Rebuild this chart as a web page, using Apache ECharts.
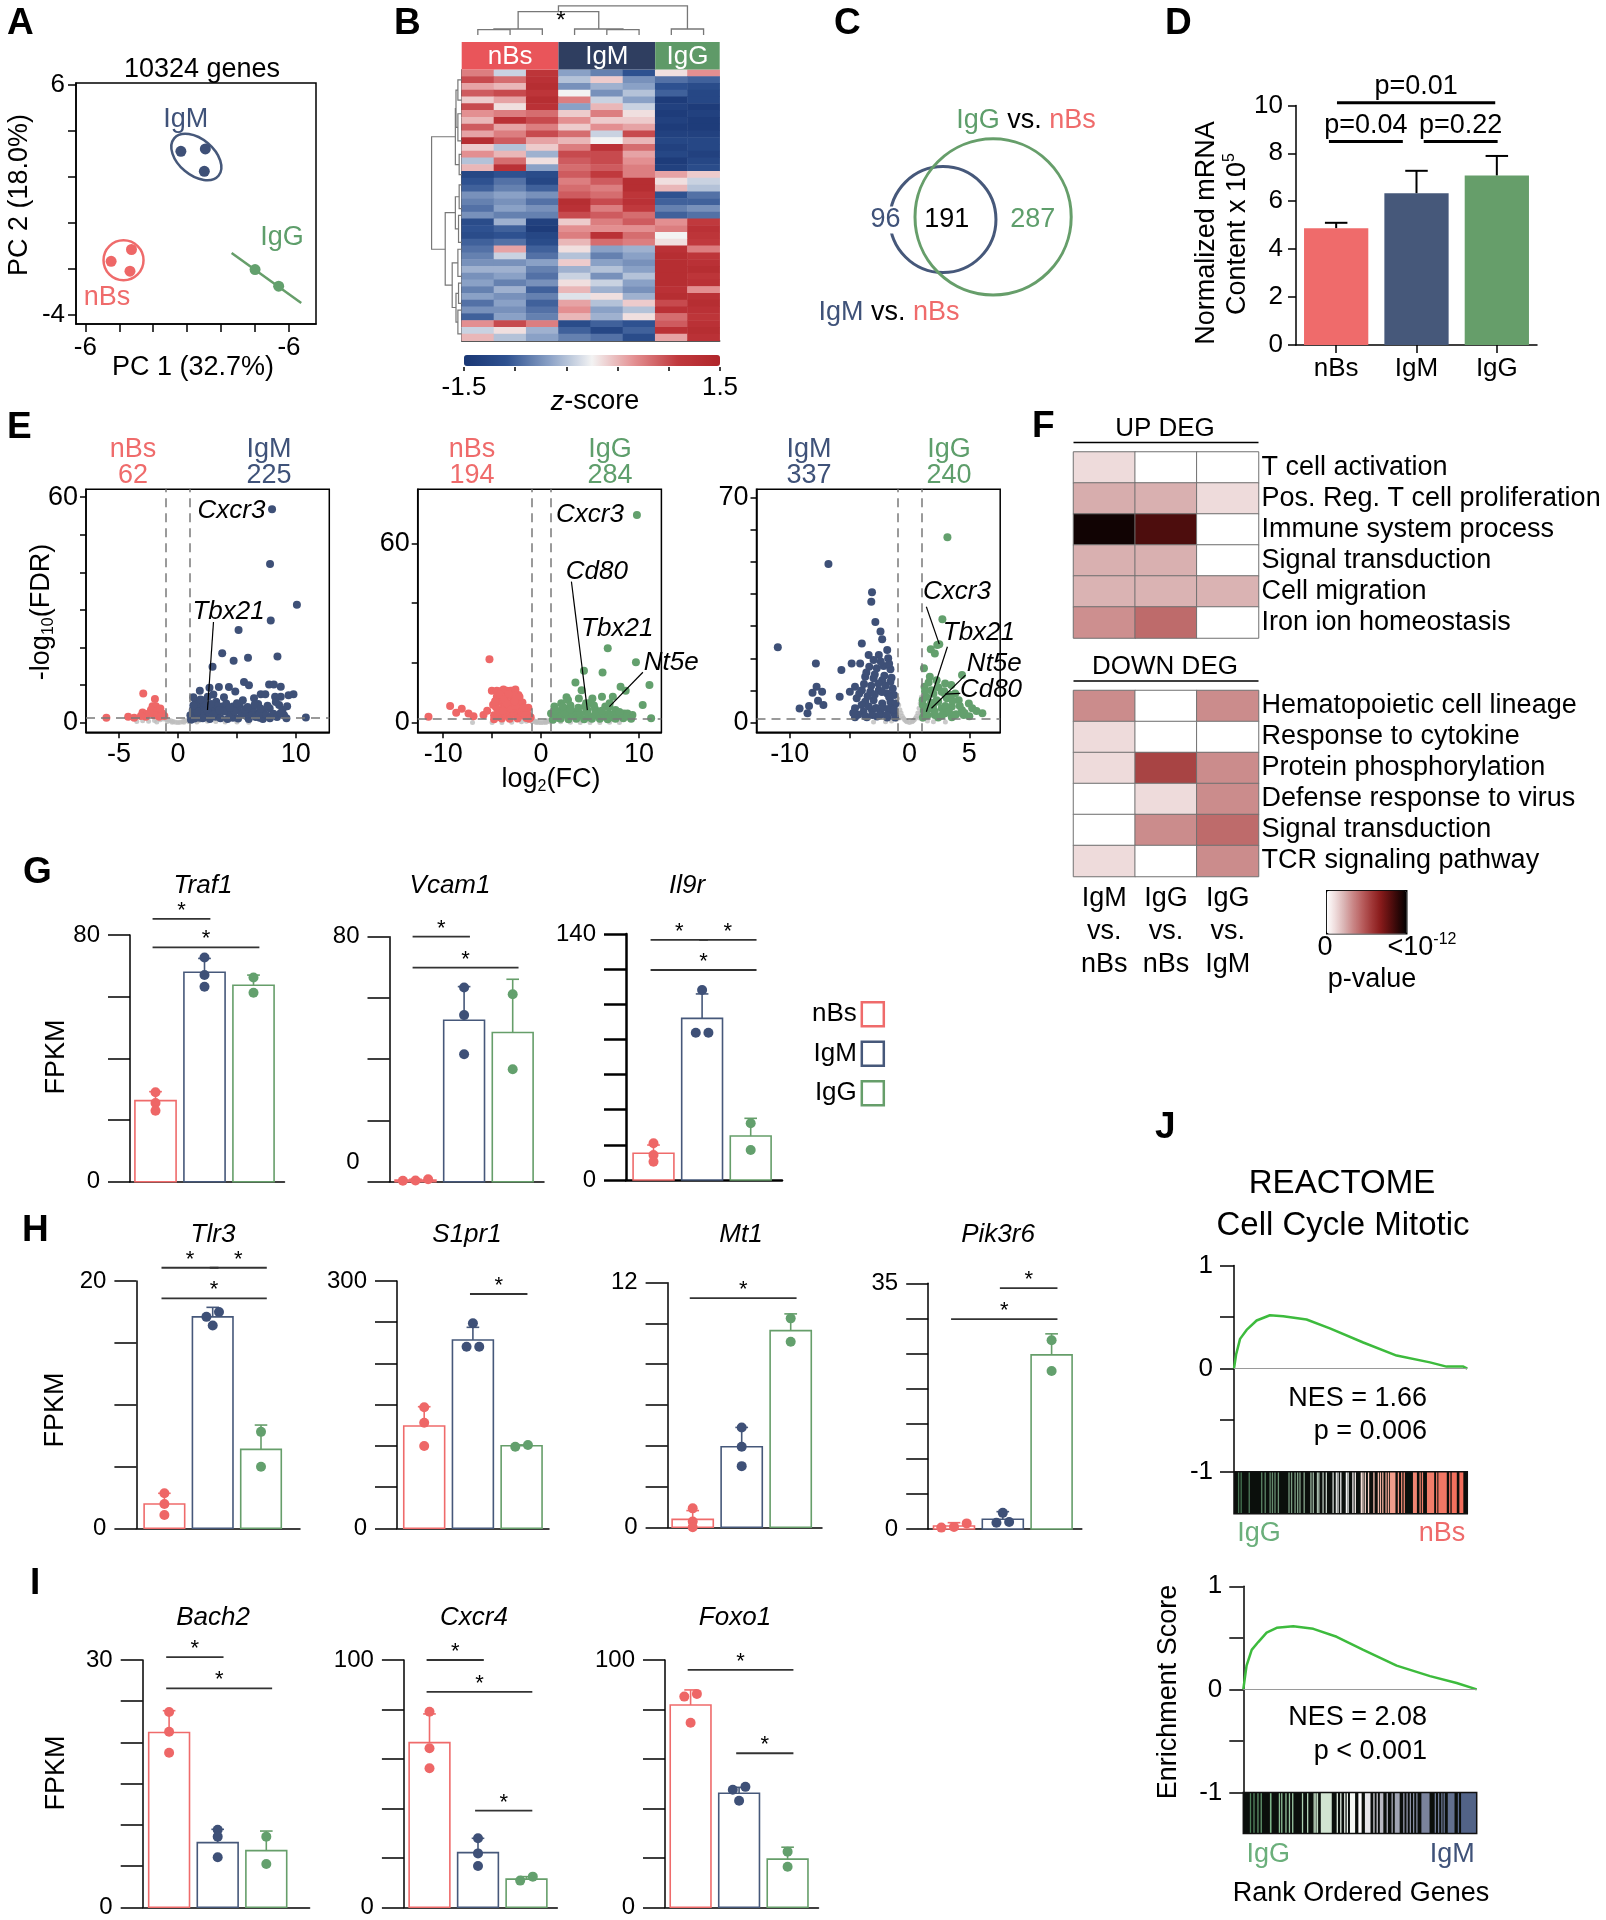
<!DOCTYPE html>
<html><head><meta charset="utf-8"><title>Figure</title>
<script src="https://cdn.jsdelivr.net/npm/echarts@6.0.0/dist/echarts.min.js"></script>
<style>html,body{margin:0;padding:0;background:#fff;}#chart{width:1606px;height:1920px;}</style>
</head><body><div id="chart"></div>
<script>
// ======================= DATA =======================
const groups = ['nBs', 'IgM', 'IgG'];

// A - PCA
const pcaNBs = [[-4.48,-1.66],[-3.28,-1.15],[-3.37,-2.09]];
const pcaIgM = [[-0.37,3.11],[1.07,3.21],[1.01,2.24]];
const pcaIgG = [[4.00,-2.02],[5.39,-2.74]];
const pcaXTicks = [-6,-4,-2,0,2,4,6];
const pcaYTicks = [-4,-2,0,2,4,6];
const pcaXLabelValues = [-6,6];
const pcaXLabelTexts = ['-6','-6'];
const pcaYLabelValues = [-4,6];

// B - heatmap (z-scores, 40 row blocks x 8 samples)
const hmSamples = ['nBs1','nBs2','nBs3','IgM1','IgM2','IgM3','IgG1','IgG2'];
const hmGroupSpans = [[0,2],[3,5],[6,7]];
const hmRows = [
[0.6,-0.2,1.1,-0.5,-0.7,-1.0,0.1,0.5],
[0.9,0.7,1.2,-0.3,0.2,-0.6,-0.8,-0.9],
[0.4,0.3,1.3,-0.6,-0.4,-0.5,-1.0,-1.1],
[0.8,0.9,1.1,0.0,-0.6,-0.3,-0.9,-1.2],
[0.2,0.4,1.3,0.6,-0.2,-0.5,-1.4,-1.2],
[0.9,0.1,1.2,-0.5,0.3,-0.2,-1.3,-1.4],
[0.5,0.6,0.7,0.2,0.6,0.1,-1.4,-1.3],
[0.3,1.2,0.9,0.5,0.2,0.2,-1.3,-1.4],
[0.8,0.4,0.6,0.2,0.5,0.4,-1.4,-1.4],
[0.4,0.6,0.9,0.7,-0.2,0.9,-1.3,-1.3],
[1.3,0.8,0.4,0.3,0.0,0.3,-1.2,-1.2],
[0.2,-0.3,0.2,0.6,1.2,0.7,-1.3,-1.2],
[0.5,0.3,-0.4,0.9,0.9,0.4,-1.2,-1.3],
[-0.3,0.7,0.1,0.8,0.9,0.5,-1.4,-1.2],
[0.3,1.2,-0.5,0.7,0.8,0.6,-1.3,-1.1],
[-1.2,-1.0,-1.1,0.8,1.0,0.6,0.4,0.2],
[-1.0,-0.8,-1.2,0.6,0.8,1.3,0.1,-0.2],
[-0.9,-0.7,-0.9,0.7,0.6,1.3,0.3,-0.3],
[-0.6,-0.5,-0.6,0.8,0.7,1.1,-1.0,-0.8],
[-0.7,-0.6,-0.8,1.3,0.9,1.2,-0.9,-0.9],
[-0.8,-0.5,-0.6,1.2,0.6,1.0,-0.7,-0.6],
[-0.6,-0.7,-0.7,0.9,0.8,0.7,-0.9,-0.8],
[-1.1,-0.4,-1.3,0.2,0.6,0.8,0.5,1.0],
[-1.0,-0.9,-1.4,0.5,0.5,0.5,0.6,1.2],
[-1.1,-1.0,-1.2,0.6,1.2,0.7,0.0,1.1],
[-0.9,-0.8,-1.1,0.3,0.7,0.6,0.1,1.0],
[-0.8,0.4,-0.9,0.1,-0.5,-0.4,1.2,0.6],
[-0.7,-0.2,-0.8,-0.3,-0.7,-0.5,1.3,1.1],
[-0.6,-0.6,-0.5,0.2,-0.5,-0.6,1.3,1.2],
[-0.4,-0.4,-0.7,-0.4,-0.3,-0.5,1.3,1.3],
[-0.6,-0.5,-0.8,-0.2,-0.6,-0.3,1.3,1.1],
[-0.5,-0.7,-0.6,0.1,-0.2,-0.5,1.3,1.2],
[-0.7,-0.4,-0.9,0.3,-0.4,-0.6,1.2,0.5],
[-0.5,-0.6,-0.7,-0.1,0.1,-0.4,1.3,1.2],
[-0.8,-0.5,-0.9,0.4,-0.3,0.2,0.9,1.3],
[-0.6,-0.6,-0.8,0.5,-0.5,-0.3,1.2,1.2],
[-0.9,-0.5,-0.7,0.3,-0.4,0.1,0.7,1.1],
[0.5,0.9,0.6,-1.1,-0.9,-1.0,0.8,1.2],
[-0.2,0.1,-0.4,-0.9,-1.2,-0.9,1.2,1.3],
[0.3,-0.3,-0.5,-0.7,-0.8,-1.1,0.4,1.2]
];
// dendrogram links: [a, heightA, b, heightB, mergeHeight]
const hmColLinks = [[0,0,1,0,0.18],[0.5,0.18,2,0,0.2],[4,0,5,0,0.18],[3,0,4.5,0.18,0.2],[6,0,7,0,0.2],[1.25,0.2,3.75,0.2,0.78],[2.5,0.78,6.5,0.2,0.97]];
const hmRowLinks = [[1,0,4,0,0.12],[6,0,10,0,0.12],[12,0,15,0,0.08],[2.5,0.12,8,0.12,0.18],[5.25,0.18,13.5,0.08,0.2],
  [16.5,0,20,0,0.08],[21,0,25,0,0.1],[18.25,0.08,23,0.1,0.2],[26,0,30,0,0.12],[31,0,34,0,0.1],[35,0,38.5,0,0.12],
  [32.5,0.1,36.75,0.12,0.18],[28,0.12,34.6,0.18,0.3],[20.6,0.2,31.3,0.3,0.52],[9.4,0.2,26,0.52,0.95]];
const hmZTicks = [-1.5,-0.9,-0.3,0.3,0.9,1.5];
const hmZLabels = [-1.5,1.5];

// C - Venn counts [IgM only, shared, IgG only]
const vennCounts = [96,191,287];

// D - normalized mRNA content (x10^5)
const mrnaMeans = [4.87,6.33,7.07];
const mrnaSD = [0.23,0.94,0.82];
const mrnaPText = ['p=0.04','p=0.22','p=0.01'];
const mrnaYTicks = [0,2,4,6,8,10];

// E - volcano plots [log2FC, -log10 FDR]
const volc1Left = [[-6.08,1.33],[-4.23,1.6],[-3.72,1.33],[-2.95,7.8],[-1.96,6.3],[-2.16,4.4],[-1.88,4.4],[-3.01,2.7],[-2.59,2.3],[-2.3,3.4],[-1.73,3.2],[-1.36,2.5],[-1.16,1.8],[-1.59,1.6],[-2.02,2.0],[-2.73,1.6],[-3.15,1.8],[-1.5,3.8],[-2.4,2.6]];
const volc1Right = [[7.98,56.8],[7.81,42.2],[10.09,31.4],[7.87,27.2],[5.14,24.7],[3.75,18.5],[5.94,17.3],[8.44,17.6],[4.72,16.5],[2.93,14.9],[5.6,10.8],[6.02,10.0],[7.73,10.2],[8.13,10.2],[8.72,9.6],[3.47,9.5],[4.32,9.5],[1.85,8.5],[2.67,9.3],[4.86,8.3],[6.45,6.5],[7.02,7.6],[7.41,7.6],[8.24,6.9],[8.72,6.9],[9.38,7.3],[9.8,7.6],[9.26,4.4],[8.58,4.7],[8.87,3.4],[9.0,2.0],[10.85,1.4],[1.05,2.0],[1.25,3.4],[1.68,4.7],[2.1,6.0],[2.53,6.9],[3.24,5.6],[3.66,4.3],[4.09,5.1],[4.66,4.3],[5.09,3.4],[5.65,2.5],[6.08,2.9],[6.65,2.5],[7.22,2.9],[5.23,4.7],[4.38,2.5],[3.38,2.5],[2.39,2.5],[1.82,2.9],[2.95,3.8],[6.36,3.8],[7.78,3.8],[1.25,1.6],[1.82,1.3],[4.66,1.3],[6.93,1.3],[2.5,3.4],[1.5,5.5],[2.2,4.2],[3.0,7.5],[3.9,6.8],[5.5,6.0],[6.8,5.0],[4.2,3.3],[1.3,6.8],[2.0,1.8],[3.2,1.6],[5.8,1.8],
 [1.1,0.8],[1.4,1.1],[1.7,2.2],[2.1,1.2],[2.4,3.8],[2.7,1.0],[3.0,2.2],[3.3,4.5],[3.6,1.2],[3.9,3.0],[4.2,1.0],[4.5,2.0],[4.8,3.0],[5.1,1.1],[5.4,2.2],[5.7,3.5],[6.0,1.0],[6.3,2.0],[6.6,1.5],[6.9,2.2],[7.2,1.0],[7.5,2.0],[7.8,1.2],[8.1,2.4],[8.4,1.5],[8.7,2.5],[9.2,1.2],[1.6,3.0],[2.2,5.2],[2.8,5.0],[3.5,3.3],[4.4,4.0],[5.0,5.2],[5.9,4.2],[6.5,4.8],[7.0,3.8],[7.6,4.5],[8.3,5.5],[1.3,4.6],[1.9,6.2]];
const volc1NS = [[-3.5,0.3],[-3,0.5],[-2.5,0.4],[-2,0.6],[-1.5,0.8],[-1.2,1.0],[-1,0.9],[-0.8,0.7],[-0.6,0.5],[-0.4,0.3],[-0.2,0.15],[0,0.05],[0.2,0.15],[0.4,0.3],[0.6,0.5],[0.8,0.7],[1.0,0.9],[1.3,1.0],[1.8,0.6],[2.5,0.4],[3.2,0.3],[4,0.2],[5,0.2],[6,0.1],[-0.9,0.3],[0.9,0.3],[-0.5,0.1],[0.5,0.1],[-1.8,0.2],[1.6,0.2]];
const volc2Left = [[-11.5,2.0],[-9.29,5.6],[-8.67,3.3],[-8.1,4.7],[-7.41,3.1],[-6.9,2.2],[-5.88,2.6],[-5.27,21.2],[-5.03,10.7],[-4.52,10.7],[-4.01,10.7],[-3.5,10.7],[-2.99,10.7],[-2.65,10.7],[-4.52,8.7],[-4.18,7.0],[-3.84,5.4],[-3.5,3.7],[-3.16,6.5],[-2.82,8.1],[-2.31,9.3],[-3.84,11.1],[-3.14,10.7],[-2.62,11.1],[-3.49,8.7],[-2.8,9.3],[-2.28,7.6],[-2.1,5.4],[-1.76,4.3],[-1.41,3.1],[-3.67,5.4],[-2.97,6.5],[-2.45,3.7],[-1.06,1.8],[-5.5,4.0],[-4.8,2.5],[-4.2,1.8],[-3.2,2.0],[-2.0,2.4],[-1.5,1.6],[-4.9,6.0],[-4.4,4.2],[-1.9,6.8],[-1.3,5.0],
 [-4.8,1.2],[-4.4,2.8],[-4.0,1.4],[-3.6,2.4],[-3.2,1.3],[-2.8,3.0],[-2.4,1.4],[-2.0,3.5],[-1.6,2.6],[-1.2,1.3],[-4.6,5.2],[-4.2,9.5],[-3.8,7.8],[-3.4,6.2],[-3.0,4.6],[-2.6,5.6],[-2.2,8.6],[-1.8,5.0],[-3.9,4.0],[-2.7,7.2],[-3.3,9.6],[-4.7,7.2]];
const volc2Right = [[9.79,69.5],[6.81,24.9],[9.69,20.2],[6.28,16.8],[4.38,17.4],[11.07,12.6],[8.12,12.0],[3.51,13.5],[4.14,10.9],[3.86,8.1],[5.24,8.1],[6.22,8.7],[7.33,8.7],[8.64,10.7],[10.38,5.9],[2.06,6.5],[2.75,7.6],[1.36,5.4],[1.02,3.1],[1.71,3.7],[2.75,4.8],[4.48,5.4],[5.52,4.5],[6.56,5.4],[7.6,4.3],[8.47,3.1],[9.33,2.6],[11.24,1.5],[2.58,2.6],[3.79,2.2],[4.83,1.8],[6.22,2.0],[7.43,1.7],[2.23,4.2],[3.62,3.7],[4.66,3.7],[5.87,3.1],[6.91,3.1],[7.95,2.6],[8.82,3.1],[4.73,4.2],[6.98,5.4],[1.4,2.0],[1.8,1.6],[3.0,5.8],[5.0,6.6],[3.3,3.0],[5.5,2.5],
 [1.2,1.0],[1.6,2.5],[2.0,1.3],[2.4,3.2],[2.8,1.2],[3.2,2.6],[3.6,1.3],[4.0,3.0],[4.4,1.2],[4.8,2.7],[5.2,1.3],[5.6,3.4],[6.0,1.3],[6.4,2.8],[6.8,1.2],[7.2,2.5],[7.6,1.3],[8.0,3.6],[8.4,1.5],[8.8,2.2],[9.2,1.3],[2.2,5.4],[3.0,4.4],[3.8,5.0],[4.6,6.5],[5.4,5.8],[6.2,4.0],[7.0,6.5],[1.5,4.2],[2.6,8.5]];
const volc2NS = [[-1.5,0.5],[-1.2,0.9],[-1,1.1],[-0.8,0.8],[-0.6,0.5],[-0.4,0.3],[-0.2,0.1],[0,0.05],[0.2,0.1],[0.4,0.3],[0.6,0.5],[0.8,0.8],[1,1.0],[1.3,0.6],[2,0.3],[3,0.2],[4,0.1],[5,0.1],[-2,0.3],[-3,0.2],[-4,0.1],[-5,0.1],[-0.9,0.3],[0.9,0.3],[-0.5,0.1],[0.5,0.1],[6,0.1],[8,0.1],[-7,0.1],[7,0.2]];
const volc3Left = [[-11.0,23.4],[-6.77,49.3],[-7.82,18.4],[-7.76,11.2],[-8.1,9.3],[-7.3,9.6],[-7.64,6.8],[-7.19,5.5],[-8.39,5.2],[-9.18,4.4],[-8.52,2.9],[-5.69,16.4],[-5.83,8.1],[-4.98,9.6],[-4.83,18.4],[-3.98,24.6],[-3.13,40.5],[-3.19,37.6],[-2.85,31.3],[-2.42,28.3],[-2.28,25.9],[-1.86,22.6],[-3.41,21.0],[-2.56,21.0],[-1.78,20.0],[-4.12,18.4],[-3.36,17.4],[-2.73,16.9],[-2.16,17.6],[-1.59,16.6],[-3.7,14.3],[-3.0,13.8],[-2.28,13.2],[-1.59,12.7],[-4.55,11.2],[-3.98,10.1],[-3.27,9.6],[-2.56,10.1],[-1.86,9.1],[-1.29,8.6],[-4.41,7.6],[-3.7,6.5],[-3.0,7.0],[-2.28,6.0],[-1.59,6.5],[-1.16,6.0],[-4.55,4.5],[-3.84,3.4],[-3.13,3.9],[-2.42,3.4],[-1.72,3.9],[-1.29,2.9],[-4.55,1.7],[-3.56,1.7],[-2.71,1.9],[-1.86,1.6],
 [-4.3,2.5],[-4.0,5.5],[-3.7,2.0],[-3.4,5.0],[-3.1,2.4],[-2.8,4.6],[-2.5,2.2],[-2.2,4.8],[-1.9,2.4],[-1.6,4.6],[-1.3,4.2],[-1.2,1.6],[-4.2,9.0],[-3.8,12.0],[-3.5,8.2],[-3.2,11.5],[-2.9,8.8],[-2.6,12.2],[-2.3,9.5],[-2.0,11.5],[-1.7,8.0],[-1.4,10.6],[-3.6,15.6],[-2.9,15.0],[-2.1,14.6],[-1.5,14.0],[-3.0,19.5],[-2.4,19.0],[-1.7,18.3],[-4.7,3.0]];
const volc3Right = [[3.17,57.6],[2.75,32.1],[2.32,24.1],[1.78,22.8],[2.12,21.5],[1.21,16.9],[4.39,14.8],[1.7,14.3],[2.27,13.2],[2.98,12.2],[3.49,11.7],[1.26,11.2],[1.84,10.1],[2.69,9.6],[3.82,9.1],[1.4,8.1],[2.27,7.0],[3.12,7.6],[4.11,7.0],[4.96,6.0],[1.12,5.5],[1.97,5.0],[2.69,4.5],[3.54,5.0],[4.39,3.9],[5.24,4.5],[1.26,2.9],[2.12,2.4],[2.98,2.9],[3.82,2.4],[4.53,2.4],[6.09,2.9],[1.12,1.6],[2.4,1.6],[3.54,1.7],[2.49,24.4],[1.41,3.4],[1.84,4.5],[2.97,8.9],
 [1.2,3.8],[1.5,2.3],[1.8,6.2],[2.1,3.5],[2.4,6.5],[2.7,2.2],[3.0,5.2],[3.3,3.4],[3.6,6.8],[3.9,2.6],[4.2,5.2],[4.6,3.0],[5.0,2.0],[1.3,9.8],[1.6,12.5],[2.0,9.0],[2.4,11.0],[2.9,9.8],[3.4,8.6],[1.1,7.0],[1.4,4.8],[5.6,3.6]];
const volc3NS = [[-1.0,7.5],[-0.9,5.5],[-0.8,4],[-0.7,3],[-0.6,2],[-0.5,1.4],[-0.4,0.9],[-0.3,0.5],[-0.2,0.3],[0,0.1],[0.2,0.3],[0.3,0.5],[0.4,0.9],[0.5,1.4],[0.6,2],[0.7,3],[0.8,4.5],[0.9,6],[1.0,8],[-1.1,1.0],[1.1,1.0],[-1.5,0.5],[1.5,0.5],[-2,0.3],[2,0.3],[-3,0.2],[3,0.2],[-0.95,2.5],[0.95,3],[-0.85,1.5],[0.85,1.5]];
const volc1Genes = [['Cxcr3',7.98,56.8],['Tbx21',2.5,3.4]];
const volc2Genes = [['Cxcr3',9.79,69.5],['Cd80',4.73,4.2],['Tbx21',6.81,24.9],['Nt5e',6.98,5.4]];
const volc3Genes = [['Cxcr3',2.49,24.4],['Tbx21',1.41,3.4],['Nt5e',1.84,4.5],['Cd80',2.97,8.9]];
const volcCounts = [[62,225],[194,284],[337,240]];
const volc1XTicks = [-5,0,5,10], volc1XLabels = [-5,0,10], volc1YTicks = [0,10,20,30,40,50,60], volc1YLabels = [0,60];
const volc2XTicks = [-10,-5,0,5,10], volc2XLabels = [-10,0,10], volc2YTicks = [0,20,40,60], volc2YLabels = [0,60];
const volc3XTicks = [-10,-5,0,5], volc3XLabels = [-10,0,5], volc3YTicks = [0,10,20,30,40,50,60,70], volc3YLabels = [0,70];

// F - GO enrichment (-log10 p, capped at 12)
const fComparisons = ['IgM vs. nBs','IgG vs. nBs','IgG vs. IgM'];
const fTermsUp = ['T cell activation','Pos. Reg. T cell proliferation','Immune system process','Signal transduction','Cell migration','Iron ion homeostasis'];
const fTermsDown = ['Hematopoietic cell lineage','Response to cytokine','Protein phosphorylation','Defense response to virus','Signal transduction','TCR signaling pathway'];
const fUp = [[1.3,0,0],[2.8,2.7,1.3],[11.5,9.8,0],[2.7,2.7,0],[2.6,2.6,2.6],[3.7,4.9,0]];
const fDown = [[3.8,0,3.8],[1.3,0,0],[1.3,6.3,3.8],[0,1.3,3.8],[0,3.8,4.9],[1.3,0,3.8]];

// G/H/I - FPKM bar charts
const barGenes = ['Traf1','Vcam1','Il9r','Tlr3','S1pr1','Mt1','Pik3r6','Bach2','Cxcr4','Foxo1'];
const barYMax = [80,80,140,20,300,12,35,30,100,100];
const barStep = [20,20,20,5,50,2,5,5,20,20];
const barMeans = [[26.3,67.9,63.7],[0.5,52.7,48.7],[15.2,92.0,25.0],[1.96,17.1,6.38],[124.1,228.4,100.2],[0.39,3.95,9.65],[0.43,1.38,24.8],[21.2,7.84,6.87],[66.6,22.1,11.4],[81.8,46.1,19.5]];
const barSD = [[2.9,4.5,3.3],[0.3,11.0,17.4],[4.7,13.9,10.1],[0.87,0.77,1.97],[23.4,15.4,1.0],[0.43,0.95,0.82],[0.47,1.09,3.0],[2.65,1.62,2.38],[11.6,5.8,1.0],[6.1,2.4,4.8]];
const barPoints = [
 [[29.0,25.5,23.0],[72.7,67.0,63.2],[66.2,61.3]],
 [[0.8,0.3,0.4],[63.4,54.4,41.6],[61.2,36.7]],
 [[20.9,14.2,10.4],[108.1,83.8,83.8],[32.3,17.1]],
 [[2.83,1.96,1.07],[17.5,17.1,16.4],[7.8,4.98]],
 [[146.8,128.1,99.8],[248.7,220.3,220.3],[99.0,101.0]],
 [[0.93,0.28,0.0],[4.9,3.95,3.0],[10.25,9.1]],
 [[0.8,0.2,0.3],[2.3,1.0,0.9],[26.9,22.5]],
 [[23.7,21.3,18.75],[9.4,8.57,6.07],[8.57,5.25]],
 [[79.1,64.3,56.2],[27.9,21.8,16.7],[10.8,12.4]],
 [[85.2,86.3,74.6],[48.7,47.5,43.1],[22.5,16.4]]
];
// significant comparisons: [group a, group b, bracket height]
const barSig = [
 [[0,1,85.2],[0,2,76.0]],
 [[0,1,80.0],[0,2,69.9]],
 [[0,1,136.6],[1,2,136.6],[0,2,119.5]],
 [[0,1,21.07],[1,2,21.07],[0,2,18.6]],
 [[1,2,284.2]],
 [[0,2,11.24]],
 [[1,2,34.3],[0,2,29.9]],
 [[0,1,30.36],[0,2,26.56]],
 [[0,1,100],[0,2,87.1],[1,2,39.1]],
 [[0,2,96.0],[1,2,62.3]]
];

// J - GSEA running enrichment score [rank fraction, ES]
const gsea1Curve = [[0,0],[0.009,0.137],[0.026,0.289],[0.054,0.376],[0.097,0.467],[0.154,0.518],[0.211,0.508],[0.311,0.477],[0.411,0.391],[0.554,0.254],[0.697,0.127],[0.84,0.061],[0.911,0.02],[0.983,0.02],[1,0]];
const gsea2Curve = [[0,0],[0.014,0.23],[0.036,0.383],[0.064,0.459],[0.1,0.551],[0.143,0.597],[0.214,0.612],[0.3,0.587],[0.4,0.51],[0.514,0.383],[0.657,0.23],[0.8,0.128],[0.914,0.061],[1,0]];
const gsea1Hits = [[.017,.021],[.028,.032],[.0625,.066],[.116,.12],[.131,.135],[.152,.156],[.162,.166],[.173,.177],[.1875,.191],[.233,.237],[.244,.248],[.259,.263],[.27,.274],[.28,.284],[.298,.302],[.327,.331],[.337,.341],[.355,.359],[.361,.365],[.379,.383],[.393,.397],[.422,.426],[.436,.44],[.443,.447],[.455,.46],[.479,.484],[.486,.49],[.507,.511],[.517,.521],[.543,.547],[.55,.554],[.56,.564],[.574,.578],[.597,.601],[.616,.62],[.625,.629],[.635,.639],[.649,.653],[.659,.663],[.668,.692],[.702,.706],[.716,.72],[.727,.731],[.767,.784],[.795,.799],[.805,.809],[.827,.858],[.866,.87],[.876,.912],[.922,.926],[.933,.955],[.966,.983]];
const gsea2Hits = [[.028,.032],[.043,.047],[.06,.064],[.074,.078],[.114,.121],[.152,.156],[.162,.166],[.18,.184],[.195,.199],[.209,.213],[.251,.255],[.273,.277],[.301,.305],[.308,.312],[.315,.319],[.332,.379],[.4,.404],[.415,.419],[.432,.436],[.443,.447],[.457,.479],[.493,.507],[.521,.545],[.557,.561],[.571,.575],[.585,.6],[.614,.618],[.635,.639],[.649,.67],[.685,.689],[.699,.703],[.713,.717],[.727,.731],[.741,.745],[.763,.798],[.82,.824],[.834,.838],[.848,.852],[.858,.862],[.876,.905],[.919,.923],[.933,1]];
const gseaStats = [['NES = 1.66','p = 0.006'],['NES = 2.08','p < 0.001']];
const gseaYTicks = [-1,-0.5,0,0.5,1], gseaYLabels = [-1,0,1];

// ======================= STYLE / LAYOUT =======================
const FONT = '"Liberation Sans", Arial, Helvetica, sans-serif';
const COL = {nBs:'#EF6B6B', IgM:'#46587A', IgG:'#669E6A'};
const PT = {nBs:'#EE6767', IgM:'#3E5077', IgG:'#63A06D'};
const TXT = {nBs:'#EF6B6B', IgM:'#3F5279', IgG:'#5E9E6B'};
const HDR = {nBs:'#E9555A', IgM:'#2F3E60', IgG:'#5F9A68'};
const B_COLORS = ['#1A3774','#2E5190','#8AA1C6','#F3F3F3','#E38F91','#C0393D','#B0262B'];
const F_COLORS = ['#FFFFFF','#EEDADA','#D9B1B1','#C98585','#B85E5E','#A23A3A','#8A1C1C','#5E1010','#2E0707','#000000'];

const grid=[], xAxis=[], yAxis=[], series=[], graphic=[];
function fnt(size, style, weight){ return (style||'normal')+' '+(weight||'normal')+' '+size+'px '+FONT; }
function textEl(x, y, text, o){ o=o||{}; const al=o.align||'center', va=o.va||'middle';
  const st={text:text, fill:o.color||'#000', font:fnt(o.size||26,o.style,o.weight), align:al, textAlign:al, verticalAlign:va, textVerticalAlign:va};
  if(o.rich) st.rich=o.rich;
  if(o.bg){ st.backgroundColor=o.bg; st.textBackgroundColor=o.bg; st.padding=[0,2]; }
  return {type:'text', x:x, y:y, rotation:o.rot||0, z:100, silent:true, style:st}; }
function gtext(x,y,text,o){ graphic.push(textEl(x,y,text,o)); }
function addGrid(r, xa, ya, border){ const gi=grid.length;
  grid.push({left:r[0], top:r[1], width:r[2], height:r[3], containLabel:false, outerBoundsMode:'none', show:!!border, borderColor:'#000', borderWidth:1.5, backgroundColor:'rgba(0,0,0,0)'});
  xAxis.push(Object.assign({gridIndex:gi}, xa)); yAxis.push(Object.assign({gridIndex:gi}, ya)); return gi; }
function onG(gi, s){ s.xAxisIndex=gi; s.yAxisIndex=gi; if(s.animation===undefined) s.animation=false; series.push(s); return series.length-1; }
function valAxis(min, max, o){ o=o||{}; const lw=o.lw||1.5;
  return {type:'value', min:min, max:max, show:o.show!==false, inverse:!!o.inverse, position:o.position,
    axisLine:{show:!!o.line, onZero:false, lineStyle:{color:'#000', width:lw}},
    axisTick:o.ticks?{show:true, inside:false, length:o.tickLen||7, customValues:o.ticks, lineStyle:{color:'#000', width:lw}}:{show:false},
    axisLabel:o.labels?{show:true, customValues:o.labels, formatter:o.fmt, margin:o.margin||8, fontSize:o.fs||26, fontFamily:FONT, color:'#000', rich:o.rich}:{show:false},
    splitLine:{show:false}, splitArea:{show:false}}; }
function hexToRgb(h){ h=h.replace('#',''); return [0,2,4].map(i=>parseInt(h.substr(i,2),16)); }
function gradAt(stops, t){ for(let i=1;i<stops.length;i++){ if(t<=stops[i][0]){ const t0=stops[i-1][0], t1=stops[i][0]; const f=(t-t0)/((t1-t0)||1); const a=hexToRgb(stops[i-1][1]), b=hexToRgb(stops[i][1]); return 'rgb('+a.map((v,k)=>Math.round(v+(b[k]-v)*f)).join(',')+')'; } } return stops[stops.length-1][1]; }

// ---------- panel letters ----------
[['A',7,23.5],['B',394,23.5],['C',834,23.5],['D',1165,23.5],['E',7,428],['F',1032,427],['G',23,873],['H',22,1231],['I',30,1584],['J',1155,1128]]
 .forEach(l=>gtext(l[1],l[2],l[0],{size:37,weight:'bold',align:'left'}));

// ======================= A: PCA =======================
const gA = addGrid([76,83,240,241],
  valAxis(-6.55,7.59,{line:true,ticks:pcaXTicks,labels:pcaXLabelValues,fmt:v=>pcaXLabelTexts[pcaXLabelValues.indexOf(v)],tickLen:8,margin:11,fs:26}),
  valAxis(-4.38,6.07,{line:true,ticks:pcaYTicks,labels:pcaYLabelValues,tickLen:8,margin:11,fs:26}), true);
[['nBs',pcaNBs],['IgM',pcaIgM],['IgG',pcaIgG]].forEach(d=>onG(gA,{type:'scatter',name:d[0],data:d[1],symbolSize:11,itemStyle:{color:PT[d[0]],opacity:1},z:5,silent:true}));
const PCA_ANN = {igmEll:[0.54,2.86], nbsCirc:[-3.75,-1.62], iggLine:[[2.62,-1.30],[6.72,-3.47]], labels:[['IgM',-0.08,4.48],['IgG',5.59,-0.65],['nBs',-4.73,-3.25]]};
onG(gA,{type:'custom',silent:true,clip:false,z:4,data:[[0,0]],renderItem:(p,api)=>{
  const e=api.coord(PCA_ANN.igmEll), c=api.coord(PCA_ANN.nbsCirc), l1=api.coord(PCA_ANN.iggLine[0]), l2=api.coord(PCA_ANN.iggLine[1]);
  const ch=[
    {type:'ellipse', x:e[0], y:e[1], rotation:-0.70, shape:{cx:0,cy:0,rx:29,ry:18}, style:{fill:'none',stroke:COL.IgM,lineWidth:2.5}},
    {type:'circle', shape:{cx:c[0],cy:c[1],r:20}, style:{fill:'none',stroke:COL.nBs,lineWidth:2.5}},
    {type:'line', shape:{x1:l1[0],y1:l1[1],x2:l2[0],y2:l2[1]}, style:{stroke:COL.IgG,lineWidth:2.5}}];
  PCA_ANN.labels.forEach(l=>{ const q=api.coord([l[1],l[2]]); ch.push(textEl(q[0],q[1],l[0],{size:27,color:TXT[l[0]]})); });
  return {type:'group',children:ch}; }});
gtext(202,70,'10324 genes',{size:27});
gtext(193,368,'PC 1 (32.7%)',{size:27});
gtext(20,195,'PC 2 (18.0%)',{size:27,rot:Math.PI/2});

// ======================= B: heatmap =======================
const rowIds = hmRows.map((r,i)=>'r'+(i+1));
const gB = addGrid([461.7,69.7,258,271],
  {type:'category',data:hmSamples,axisLine:{show:true,lineStyle:{color:'#222',width:1.5}},axisTick:{show:false},axisLabel:{show:false},splitLine:{show:false}},
  {type:'category',data:rowIds,inverse:true,axisLine:{show:true,lineStyle:{color:'#555',width:1}},axisTick:{show:false},axisLabel:{show:false},splitLine:{show:false}});
const hmData=[]; hmRows.forEach((r,i)=>r.forEach((v,j)=>hmData.push([j,i,v])));
const sB = onG(gB,{type:'heatmap',data:hmData,silent:true,itemStyle:{borderWidth:0},progressive:0});
// header
const gBh = addGrid([461.7,42,258,27.5], valAxis(-0.5,7.5,{show:false}), valAxis(0,1,{show:false}));
onG(gBh,{type:'custom',silent:true,data:hmGroupSpans,renderItem:(p,api)=>{
  const g=groups[p.dataIndex]; const a=api.coord([api.value(0)-0.5,1]), b=api.coord([api.value(1)+0.5,0]);
  return {type:'group',children:[{type:'rect',shape:{x:a[0],y:a[1],width:b[0]-a[0],height:b[1]-a[1]},style:{fill:HDR[g]}},
    textEl((a[0]+b[0])/2,(a[1]+b[1])/2+1,g,{size:26,color:'#fff'})]}; }});
// column dendrogram
const gBc = addGrid([461.7,5,258,30], valAxis(-0.5,7.5,{show:false}), valAxis(0,1,{show:false}));
onG(gBc,{type:'custom',silent:true,clip:false,data:hmColLinks,renderItem:(p,api)=>{
  const v=hmColLinks[p.dataIndex]; const pts=[[v[0],v[1]],[v[0],v[4]],[v[2],v[4]],[v[2],v[3]]].map(q=>api.coord(q));
  return {type:'polyline',shape:{points:pts},style:{fill:'none',stroke:'#777',lineWidth:1.3}}; }});
gtext(561,21,'*',{size:24});
// row dendrogram
const gBr = addGrid([430,69.7,31.7,271], valAxis(0,1,{show:false,inverse:true}), valAxis(-0.5,39.5,{show:false,inverse:true}));
onG(gBr,{type:'custom',silent:true,clip:false,data:hmRowLinks,renderItem:(p,api)=>{
  const v=hmRowLinks[p.dataIndex]; const pts=[[v[1],v[0]],[v[4],v[0]],[v[4],v[2]],[v[3],v[2]]].map(q=>api.coord(q));
  return {type:'polyline',shape:{points:pts},style:{fill:'none',stroke:'#777',lineWidth:1.2}}; }});
// colorbar ticks
addGrid([464,366,256,1], valAxis(-1.5,1.5,{line:false,ticks:hmZTicks,labels:hmZLabels,tickLen:4,margin:8,fs:26}), valAxis(0,1,{show:false}));
gtext(595,402,'{i|z}-score',{size:27,rich:{i:{fontStyle:'italic',fontSize:27,fontFamily:FONT,fill:'#000'}}});

// ======================= C: Venn =======================
const VENN = {circles:[[37.7,50.2,24.1,'IgM'],[60.5,51.4,35.5,'IgG']], labels:[[11.6,50,'IgM'],[39.4,50,null],[78.5,50,'IgG']]};
const gC = addGrid([860,110,220,220], valAxis(0,100,{show:false}), valAxis(0,100,{show:false}));
onG(gC,{type:'custom',silent:true,clip:false,data:VENN.circles.map(c=>[c[0],c[1],c[2]]),renderItem:(p,api)=>{
  const c=api.coord([api.value(0),api.value(1)]); const r=api.size([api.value(2),0])[0];
  return {type:'circle',shape:{cx:c[0],cy:c[1],r:r},style:{fill:'none',stroke:COL[VENN.circles[p.dataIndex][3]],lineWidth:3}}; }});
onG(gC,{type:'custom',silent:true,clip:false,z:5,data:VENN.labels.map(l=>[l[0],l[1]]),renderItem:(p,api)=>{
  const c=api.coord([api.value(0),api.value(1)]); const g=VENN.labels[p.dataIndex][2];
  return textEl(c[0],c[1],String(vennCounts[p.dataIndex]),{size:27,color:g?TXT[g]:'#000',bg:p.dataIndex===0?'#fff':null}); }});
const vsRich = {g:{fill:TXT.IgG,fontSize:27,fontFamily:FONT}, m:{fill:TXT.IgM,fontSize:27,fontFamily:FONT}, r:{fill:TXT.nBs,fontSize:27,fontFamily:FONT}, k:{fill:'#000',fontSize:27,fontFamily:FONT}};
gtext(1026,121,'{g|IgG}{k| vs. }{r|nBs}',{size:27,rich:vsRich});
gtext(889,313,'{m|IgM}{k| vs. }{r|nBs}',{size:27,rich:vsRich});

// ======================= D: mRNA bars =======================
const gD = addGrid([1296,105.4,241,239.6],
  valAxis(-0.5,2.5,{line:true,ticks:[0,1,2],labels:[0,1,2],fmt:v=>groups[v],tickLen:8,margin:11,fs:26}),
  valAxis(0,10,{line:true,ticks:mrnaYTicks,labels:mrnaYTicks,tickLen:8,margin:13,fs:26}));
onG(gD,{type:'custom',silent:true,z:2,data:mrnaMeans.map((m,i)=>[i,m,mrnaSD[i]]),renderItem:(p,api)=>{
  const x=api.value(0), m=api.value(1), sd=api.value(2);
  const a=api.coord([x-0.4,0]), b=api.coord([x+0.4,m]), t=api.coord([x,m]), e=api.coord([x,m+sd]), cl=api.coord([x-0.14,m+sd]), cr=api.coord([x+0.14,m+sd]);
  return {type:'group',children:[
    {type:'line',shape:{x1:t[0],y1:t[1],x2:e[0],y2:e[1]},style:{stroke:'#000',lineWidth:2}},
    {type:'line',shape:{x1:cl[0],y1:cl[1],x2:cr[0],y2:cr[1]},style:{stroke:'#000',lineWidth:2}},
    {type:'rect',shape:{x:a[0],y:b[1],width:b[0]-a[0],height:a[1]-b[1]},style:{fill:COL[groups[p.dataIndex]]}}]}; }});
const D_BRACKETS = [[-0.09,0.83,8.49],[1.09,2.01,8.49],[0.01,1.98,10.11]];
onG(gD,{type:'custom',silent:true,clip:false,z:3,data:D_BRACKETS,renderItem:(p,api)=>{
  const a=api.coord([api.value(0),api.value(2)]), b=api.coord([api.value(1),api.value(2)]);
  return {type:'group',children:[{type:'line',shape:{x1:a[0],y1:a[1],x2:b[0],y2:b[1]},style:{stroke:'#000',lineWidth:3}},
    textEl((a[0]+b[0])/2,a[1]-16,mrnaPText[p.dataIndex],{size:27})]}; }});
gtext(1207,233,'Normalized mRNA',{size:27,rot:Math.PI/2});
gtext(1238,234,'{a|Content x 10}{s|5}',{size:27,rot:Math.PI/2,rich:{a:{fontSize:27,fontFamily:FONT,fill:'#000'},s:{fontSize:16,fontFamily:FONT,fill:'#000',padding:[0,0,16,0]}}});

// ======================= E: volcano plots =======================
const VOLC = [
 {rect:[86,489.3,243.3,243], xr:[-7.81,12.84], yr:[-2.55,62.1], xt:volc1XTicks, xl:volc1XLabels, yt:volc1YTicks, yl:volc1YLabels, ns:volc1NS, left:volc1Left, right:volc1Right, lc:'nBs', rc:'IgM', genes:volc1Genes, cnt:volcCounts[0], hx:[133,269],
  lbl:{Cxcr3:{lx:4.54,ly:56.4}, Tbx21:{lx:4.29,ly:29.5,bx:3.01,by:26.8}}},
 {rect:[417.7,489.3,243.7,243], xr:[-12.6,12.29], yr:[-3.2,78.1], xt:volc2XTicks, xl:volc2XLabels, yt:volc2YTicks, yl:volc2YLabels, ns:volc2NS, left:volc2Left, right:volc2Right, lc:'nBs', rc:'IgG', genes:volc2Genes, cnt:volcCounts[1], hx:[472,610],
  lbl:{Cxcr3:{lx:5.0,ly:69.5}, Cd80:{lx:5.69,ly:50.5,bx:3.1,by:47.2}, Tbx21:{lx:7.78,ly:31.3}, Nt5e:{lx:13.3,ly:19.9,bx:10.4,by:16.9}}},
 {rect:[756.5,489.3,243.7,243], xr:[-12.78,7.58], yr:[-2.98,72.5], xt:volc3XTicks, xl:volc3XLabels, yt:volc3YTicks, yl:volc3YLabels, ns:volc3NS, left:volc3Left, right:volc3Right, lc:'IgM', rc:'IgG', genes:volc3Genes, cnt:volcCounts[2], hx:[809,949],
  lbl:{Cxcr3:{lx:3.97,ly:40.7,bx:1.41,by:36.0}, Tbx21:{lx:5.8,ly:27.8,bx:3.17,by:23.6}, Nt5e:{lx:7.09,ly:18.4,bx:4.68,by:14.8}, Cd80:{lx:6.81,ly:10.2,bx:4.25,by:9.1}}}
];
VOLC.forEach(v=>{
  const gi = addGrid(v.rect,
    valAxis(v.xr[0],v.xr[1],{line:true,ticks:v.xt,labels:v.xl,tickLen:6,margin:9,fs:27}),
    valAxis(v.yr[0],v.yr[1],{line:true,ticks:v.yt,labels:v.yl,tickLen:6,margin:8,fs:27}), true);
  onG(gi,{type:'scatter',data:v.ns,symbolSize:5,itemStyle:{color:'#BDBDBD'},z:2,silent:true,
    markLine:{silent:true,symbol:['none','none'],label:{show:false},animation:false,lineStyle:{type:[9,6],color:'#7a7a7a',width:1.5},data:[{xAxis:-1},{xAxis:1},{yAxis:1.3}]}});
  onG(gi,{type:'scatter',name:v.lc,data:v.left,symbolSize:8,itemStyle:{color:PT[v.lc],opacity:1},z:3,silent:true});
  onG(gi,{type:'scatter',name:v.rc,data:v.right,symbolSize:8,itemStyle:{color:PT[v.rc],opacity:1},z:3,silent:true});
  onG(gi,{type:'custom',silent:true,clip:false,z:6,data:v.genes.map(g=>[g[1],g[2]]),renderItem:(p,api)=>{
    const g=v.genes[p.dataIndex], L=v.lbl[g[0]]; const pt=api.coord([g[1],g[2]]), lp=api.coord([L.lx,L.ly]);
    const ch=[textEl(lp[0],lp[1],g[0],{size:26,style:'italic'})];
    if(L.bx!=null){ const b=api.coord([L.bx,L.by]); ch.push({type:'line',shape:{x1:b[0],y1:b[1],x2:pt[0],y2:pt[1]},style:{stroke:'#000',lineWidth:1.2}}); }
    return {type:'group',children:ch}; }});
  gtext(v.hx[0],450,v.lc,{size:27,color:TXT[v.lc]}); gtext(v.hx[0],476,String(v.cnt[0]),{size:27,color:TXT[v.lc]});
  gtext(v.hx[1],450,v.rc,{size:27,color:TXT[v.rc]}); gtext(v.hx[1],476,String(v.cnt[1]),{size:27,color:TXT[v.rc]});
});
gtext(42,612,'-log{s|10}(FDR)',{size:27,rot:Math.PI/2,rich:{s:{fontSize:16,fontFamily:FONT,fill:'#000',padding:[14,0,0,0]}}});
gtext(551,780,'log{s|2}(FC)',{size:27,rich:{s:{fontSize:16,fontFamily:FONT,fill:'#000',padding:[14,0,0,0]}}});

// ======================= F: GO heatmaps =======================
function catAxis(data, o){ o=o||{}; return {type:'category', data:data, inverse:!!o.inverse, position:o.position,
  axisLine:{show:false}, axisTick:{show:false}, splitLine:{show:false},
  axisLabel:o.show?{show:true, fontSize:27, fontFamily:FONT, color:'#000', margin:o.margin||4, lineHeight:o.lh, formatter:o.fmt, interval:0}:{show:false}}; }
const gFu = addGrid([1073.5,452,185,186], catAxis(fComparisons), catAxis(fTermsUp,{inverse:true,position:'right',show:true,margin:3}));
const gFd = addGrid([1073.5,690.5,185,186], catAxis(fComparisons,{show:true,margin:6,lh:33,fmt:v=>v.replace(' vs. ','\nvs.\n')}), catAxis(fTermsDown,{inverse:true,position:'right',show:true,margin:3}));
function fData(m){ const out=[]; m.forEach((r,i)=>r.forEach((v,j)=>out.push([j,i,v]))); return out; }
const sFu = onG(gFu,{type:'heatmap',data:fData(fUp),silent:true,itemStyle:{borderColor:'#707070',borderWidth:1}});
const sFd = onG(gFd,{type:'heatmap',data:fData(fDown),silent:true,itemStyle:{borderColor:'#707070',borderWidth:1}});
gtext(1165,429,'UP DEG',{size:26}); gtext(1165,667,'DOWN DEG',{size:26});
graphic.push({type:'line',z:100,silent:true,shape:{x1:1073.5,y1:442.5,x2:1258.5,y2:442.5},style:{stroke:'#000',lineWidth:1.5}});
graphic.push({type:'line',z:100,silent:true,shape:{x1:1073.5,y1:681,x2:1258.5,y2:681},style:{stroke:'#000',lineWidth:1.5}});
gtext(1325,948,'0',{size:27});
gtext(1422,948,'<10{s|-12}',{size:27,rich:{s:{fontSize:16,fontFamily:FONT,fill:'#000',padding:[0,0,16,0]}}});
gtext(1372,980,'p-value',{size:27});

// ======================= G/H/I: FPKM bars =======================
const BAR_LAYOUT = [
 {ax:130,xe:284.5,c0:155.5,sp:49,top:935,bot:1181.7,tx:203,ty:886},
 {ax:389.5,xe:544,c0:415.5,sp:48.6,top:936.7,bot:1181.7,tx:450,ty:886,raise0:19},
 {ax:626,xe:782,c0:653.5,sp:48.6,top:934,bot:1180,tx:687,ty:886,lw:2.5},
 {ax:136.4,xe:300,c0:164.4,sp:48.3,top:1281,bot:1528.3,tx:213,ty:1235},
 {ax:397,xe:549,c0:424.2,sp:48.7,top:1281,bot:1528.3,tx:467,ty:1235},
 {ax:667.6,xe:822,c0:692.7,sp:49,top:1282.7,bot:1527.3,tx:741,ty:1235},
 {ax:928.2,xe:1081.8,c0:954,sp:48.8,top:1283.3,bot:1529,tx:998,ty:1235},
 {ax:142.7,xe:309.6,c0:169.1,sp:48.6,top:1660,bot:1907.3,tx:213,ty:1618},
 {ax:403.9,xe:557.3,c0:429.5,sp:48.5,top:1660,bot:1907.3,tx:474,ty:1618},
 {ax:665,xe:818.5,c0:690.6,sp:48.5,top:1660,bot:1907.3,tx:735,ty:1618}
];
function spreadPoints(vals, thr){
  const idx=vals.map((v,i)=>i).sort((a,b)=>vals[a]-vals[b]); const off=vals.map(()=>0);
  let cl=[idx[0]]; const flush=()=>{ const n=cl.length; cl.forEach((k,j)=>{ off[k]=(j-(n-1)/2)*0.26; }); };
  for(let t=1;t<idx.length;t++){ if(vals[idx[t]]-vals[idx[t-1]]<thr) cl.push(idx[t]); else { flush(); cl=[idx[t]]; } }
  flush(); return off; }
barGenes.forEach((name,k)=>{
  const L=BAR_LAYOUT[k], ymax=barYMax[k], step=barStep[k], lw=L.lw||1.5;
  const xmin=(L.ax-L.c0)/L.sp, xmax=(L.xe-L.c0)/L.sp;
  const yt=[]; for(let v=0; v<=ymax+1e-9; v+=step) yt.push(Math.round(v*1000)/1000);
  const yax=valAxis(0,ymax,{line:true,ticks:yt,labels:[0,ymax],tickLen:22,margin:30,fs:24,lw:lw});
  if(L.raise0){ yax.axisLabel.formatter=v=>v===0?'{r|0}':String(v); yax.axisLabel.rich={r:{fontSize:24,fontFamily:FONT,color:'#000',padding:[0,0,L.raise0*2,0]}}; }
  const gi=addGrid([L.ax,L.top,L.xe-L.ax,L.bot-L.top], valAxis(xmin,xmax,{line:true,lw:lw}), yax);
  onG(gi,{type:'custom',silent:true,z:2,data:barMeans[k].map((m,i)=>[i,m,barSD[k][i]]),renderItem:(p,api)=>{
    const x=api.value(0), m=api.value(1), sd=api.value(2), c=COL[groups[p.dataIndex]];
    const a=api.coord([x-0.42,0]), b=api.coord([x+0.42,m]), t=api.coord([x,m]), e=api.coord([x,m+sd]), cl=api.coord([x-0.13,m+sd]), cr=api.coord([x+0.13,m+sd]);
    return {type:'group',children:[
      {type:'rect',shape:{x:a[0],y:b[1],width:b[0]-a[0],height:a[1]-b[1]},style:{fill:'#fff',stroke:c,lineWidth:1.6}},
      {type:'line',shape:{x1:t[0],y1:t[1],x2:e[0],y2:e[1]},style:{stroke:c,lineWidth:1.6}},
      {type:'line',shape:{x1:cl[0],y1:cl[1],x2:cr[0],y2:cr[1]},style:{stroke:c,lineWidth:1.6}}]}; }});
  groups.forEach((g,i)=>{ const vals=barPoints[k][i]; const off=spreadPoints(vals, ymax*0.02);
    onG(gi,{type:'scatter',name:g,data:vals.map((v,j)=>[i+off[j],v]),symbolSize:10,itemStyle:{color:PT[g],opacity:1},z:4,silent:true,clip:false}); });
  onG(gi,{type:'custom',silent:true,clip:false,z:5,data:barSig[k],renderItem:(p,api)=>{
    const a=api.coord([api.value(0)-0.06,api.value(2)]), b=api.coord([api.value(1)+0.12,api.value(2)]);
    return {type:'group',children:[{type:'line',shape:{x1:a[0],y1:a[1],x2:b[0],y2:b[1]},style:{stroke:'#333',lineWidth:1.8}},
      textEl((a[0]+b[0])/2,a[1]-8,'*',{size:22})]}; }});
  gtext(L.tx,L.ty,name,{size:26,style:'italic'});
});
gtext(57,1057,'FPKM',{size:27,rot:Math.PI/2});
gtext(56,1410,'FPKM',{size:27,rot:Math.PI/2});
gtext(57,1773,'FPKM',{size:27,rot:Math.PI/2});

// ======================= J: GSEA =======================
const J_LAYOUT = [
 {plot:[1234,1265.6,233.3,206.1], bar:[1234,1471.7,233.3,42], curve:gsea1Curve, hits:gsea1Hits, ends:['IgG','nBs'], endY:1534, statY:[1399,1432],
  stops:[[0,'#3F6E4C'],[0.3,'#86A58C'],[0.45,'#E6E6E6'],[0.5,'#FFFFFF'],[0.6,'#F4C0B2'],[0.72,'#F08C78'],[1,'#F26A58']]},
 {plot:[1243.3,1586.3,233.4,206.1], bar:[1243.3,1792.4,233.4,41], curve:gsea2Curve, hits:gsea2Hits, ends:['IgG','IgM'], endY:1855, statY:[1718,1752],
  stops:[[0,'#3C6B48'],[0.12,'#7DB488'],[0.35,'#CFE3CF'],[0.5,'#FFFFFF'],[0.6,'#B4B4BE'],[0.75,'#80889F'],[1,'#4B5D83']]}
];
J_LAYOUT.forEach((J,k)=>{
  const gi=addGrid(J.plot, valAxis(0,1,{line:false}), valAxis(-1,1,{line:true,ticks:gseaYTicks,labels:gseaYLabels,tickLen:14,margin:21,fs:26}));
  onG(gi,{type:'line',data:J.curve,symbol:'none',silent:true,z:3,lineStyle:{color:'#3DBB3D',width:2.5},
    markLine:{silent:true,symbol:['none','none'],label:{show:false},animation:false,lineStyle:{type:'solid',color:'#9a9a9a',width:1},data:[{yAxis:0}]}});
  const gb=addGrid(J.bar, valAxis(0,1,{show:false}), valAxis(0,1,{show:false}));
  onG(gb,{type:'custom',silent:true,z:2,data:[[0,1]],renderItem:(p,api)=>{ const a=api.coord([0,1]), b=api.coord([1,0]);
    return {type:'rect',shape:{x:a[0],y:a[1],width:b[0]-a[0],height:b[1]-a[1]},style:{fill:'#0B0F0C'}}; }});
  onG(gb,{type:'custom',silent:true,z:3,data:J.hits,renderItem:(p,api)=>{ const s=api.value(0), e=api.value(1); const a=api.coord([s,1]), b=api.coord([e,0]);
    return {type:'rect',shape:{x:a[0],y:a[1],width:Math.max(1.3,b[0]-a[0]),height:b[1]-a[1]},style:{fill:gradAt(J.stops,(s+e)/2)}}; }});
  onG(gb,{type:'custom',silent:true,z:4,data:[[0,1]],renderItem:(p,api)=>{ const a=api.coord([0,1]), b=api.coord([1,0]);
    return {type:'rect',shape:{x:a[0],y:a[1],width:b[0]-a[0],height:b[1]-a[1]},style:{fill:'none',stroke:'#111',lineWidth:1.5}}; }});
  gtext(J.bar[0]+25,J.endY,J.ends[0],{size:27,color:'#6BAF7B'});
  gtext(J.bar[0]+J.bar[2]-2,J.endY,J.ends[1],{size:27,color:TXT[J.ends[1]],align:'right'});
  gtext(1427,J.statY[0],gseaStats[k][0],{size:27,align:'right'});
  gtext(1427,J.statY[1],gseaStats[k][1],{size:27,align:'right'});
});
gtext(1342,1184,'REACTOME',{size:33});
gtext(1343,1226,'Cell Cycle Mitotic',{size:33});
gtext(1361,1894,'Rank Ordered Genes',{size:27});
gtext(1169,1692,'Enrichment Score',{size:27,rot:Math.PI/2});

// ======================= OPTION =======================
const option = {
  animation:false, backgroundColor:'#fff', textStyle:{fontFamily:FONT},
  grid:grid, xAxis:xAxis, yAxis:yAxis, series:series, graphic:{elements:graphic},
  visualMap:[
    {type:'continuous', seriesIndex:[sB], min:-1.5, max:1.5, orient:'horizontal', left:464, top:355, itemWidth:11, itemHeight:256,
     calculable:false, padding:0, hoverLink:false, inRange:{color:B_COLORS}, textStyle:{fontSize:1,color:'rgba(0,0,0,0)'}},
    {type:'continuous', seriesIndex:[sFu,sFd], min:0, max:12, orient:'horizontal', left:1326, top:890, itemWidth:43, itemHeight:80,
     calculable:false, padding:0, hoverLink:false, inRange:{color:F_COLORS}, borderColor:'#000', borderWidth:1.5, textStyle:{fontSize:1,color:'rgba(0,0,0,0)'}}
  ],
  legend:{show:true, orient:'vertical', left:812, top:1001, align:'right', padding:0, itemGap:13, itemWidth:22, itemHeight:24, selectedMode:false,
    textStyle:{fontSize:26,fontFamily:FONT,color:'#000'},
    data:groups.map(g=>({name:g, icon:'rect', itemStyle:{color:'#fff', borderColor:COL[g], borderWidth:2.5}}))}
};
const chart = echarts.init(document.getElementById('chart'), null, {renderer:'canvas', width:1606, height:1920});
chart.setOption(option);
</script></body></html>
